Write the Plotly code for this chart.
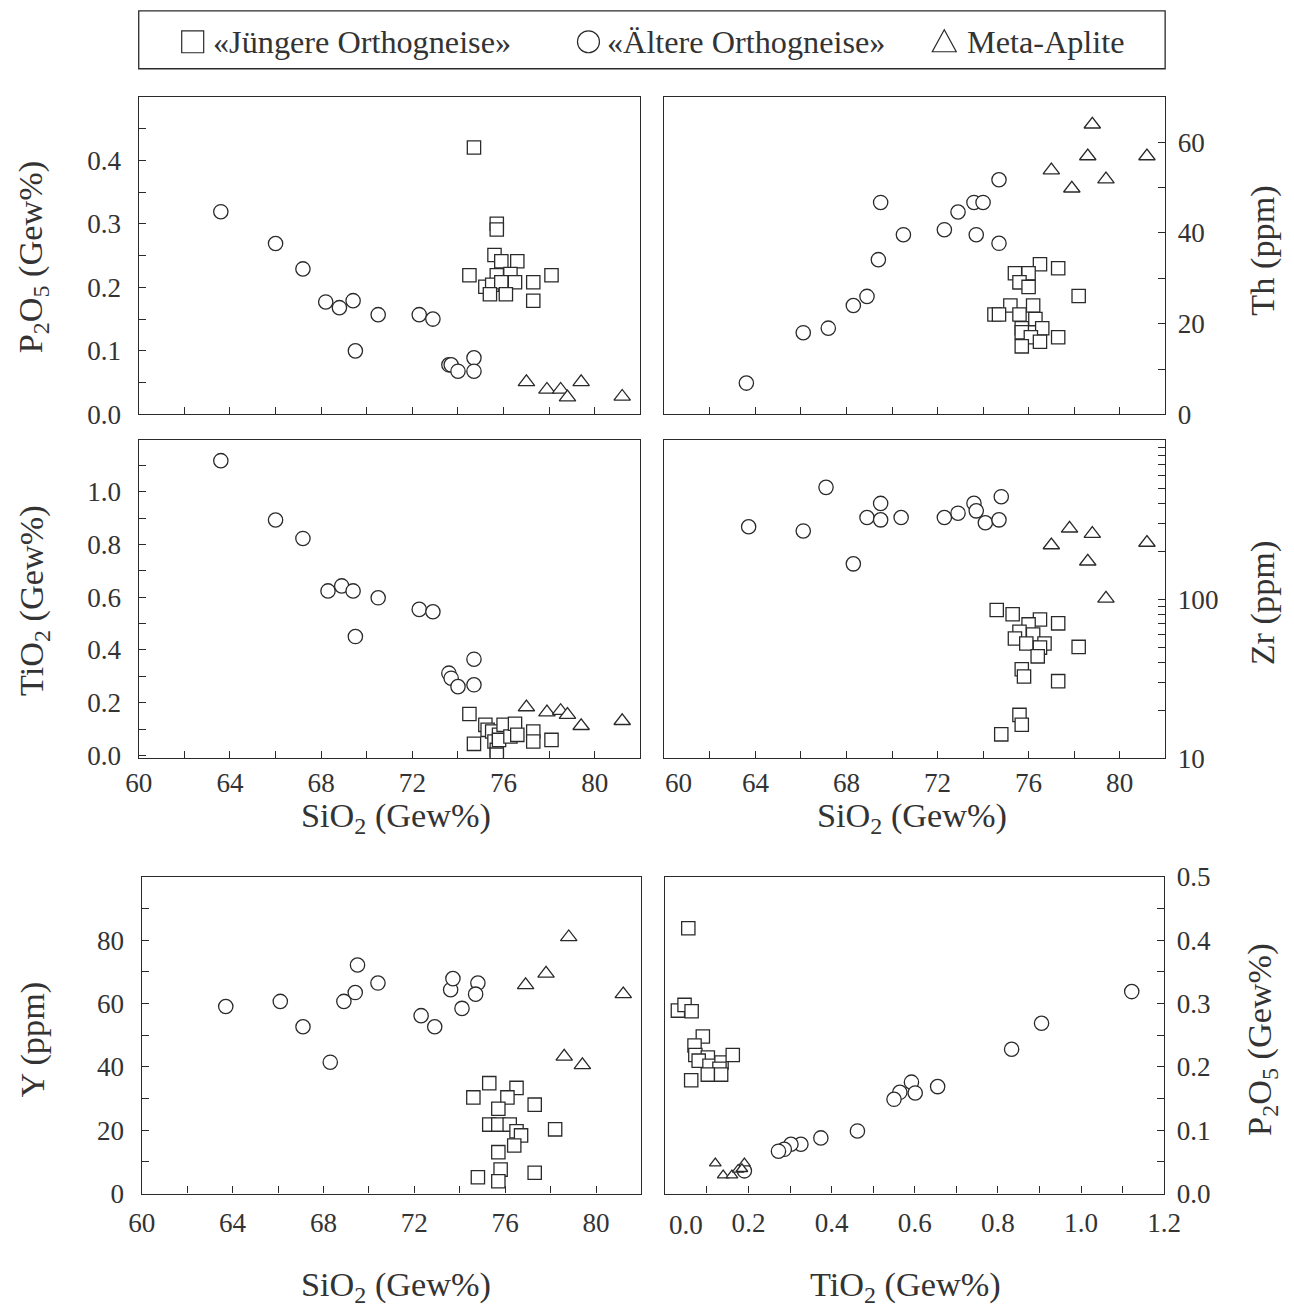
import plotly.graph_objects as go

W, H = 1294, 1307

# ---------------- data ----------------
# Panel A: P2O5 vs SiO2
alt_sio2_a = [63.6, 66.0, 67.2, 68.2, 68.8, 69.4, 69.5, 70.5, 72.3, 72.9, 73.6, 73.7, 74.0, 74.7, 74.7]
alt_p2o5_a = [0.319, 0.269, 0.229, 0.177, 0.168, 0.179, 0.100, 0.157, 0.157, 0.150, 0.078, 0.078, 0.068, 0.089, 0.068]
jung_sio2_a = [74.7, 75.7, 75.7, 75.6, 75.9, 76.6, 74.5, 75.7, 76.3, 75.2, 75.5, 75.9, 76.5, 77.3, 78.1, 75.4, 76.1, 77.3]
jung_p2o5_a = [0.420, 0.300, 0.291, 0.251, 0.241, 0.241, 0.219, 0.219, 0.221, 0.201, 0.204, 0.208, 0.208, 0.208, 0.219, 0.189, 0.189, 0.179]
apl_sio2_a = [77.0, 77.9, 78.5, 78.8, 79.4, 81.2]
apl_p2o5_a = [0.051, 0.039, 0.039, 0.027, 0.051, 0.028]

# Panel B: Th vs SiO2
alt_sio2_b = [63.6, 66.1, 67.2, 68.3, 68.9, 69.4, 69.5, 70.5, 72.3, 72.9, 73.6, 74.0, 73.7, 74.7, 74.7]
alt_th_b = [6.9, 18.0, 19.0, 24.0, 26.0, 34.1, 46.7, 39.6, 40.7, 44.6, 46.7, 46.7, 39.6, 51.7, 37.7]
jung_sio2_b = [76.5, 77.3, 75.4, 76.0, 75.6, 76.0, 78.2, 75.2, 76.2, 74.5, 74.7, 75.6, 76.3, 75.7, 76.6, 75.7, 76.1, 76.5, 77.3, 75.7]
jung_th_b = [33.1, 32.2, 31.1, 31.1, 29.1, 28.1, 26.1, 24.0, 24.0, 22.0, 22.0, 22.0, 21.0, 19.0, 19.0, 18.1, 17.0, 16.0, 17.0, 15.0]
apl_sio2_b = [78.8, 78.6, 81.2, 77.0, 79.4, 77.9]
apl_th_b = [63.9, 56.9, 56.9, 53.8, 51.8, 49.8]

# Panel C: TiO2 vs SiO2
alt_sio2_c = [63.6, 66.0, 67.2, 68.3, 68.9, 69.4, 69.5, 70.5, 72.3, 72.9, 73.6, 73.7, 74.0, 74.7, 74.7]
alt_tio2_c = [1.118, 0.893, 0.823, 0.624, 0.643, 0.624, 0.451, 0.598, 0.554, 0.545, 0.312, 0.293, 0.261, 0.365, 0.268]
jung_sio2_c = [74.5, 74.7, 75.2, 75.3, 75.5, 75.6, 75.7, 75.7, 75.8, 75.8, 76.0, 76.3, 76.5, 76.6, 77.3, 77.3, 78.1]
jung_tio2_c = [0.157, 0.044, 0.116, 0.097, 0.091, 0.053, 0.021, 0.003, 0.078, 0.059, 0.116, 0.072, 0.120, 0.078, 0.091, 0.053, 0.059]
apl_sio2_c = [77.0, 77.9, 78.5, 78.8, 79.4, 81.2]
apl_tio2_c = [0.183, 0.164, 0.169, 0.154, 0.112, 0.131]

# Panel D: Zr vs SiO2 (log)
alt_sio2_d = [63.7, 66.1, 67.1, 68.3, 68.9, 69.5, 69.5, 70.4, 72.3, 72.9, 73.6, 73.7, 74.1, 74.8, 74.7]
alt_zr_d = [286, 269, 506, 167, 327, 316, 401, 327, 327, 348, 402, 360, 303, 442, 316]
jung_sio2_d = [74.6, 75.3, 76.5, 77.3, 76.0, 75.6, 76.2, 75.4, 75.9, 76.7, 76.5, 78.2, 76.4, 75.7, 75.8, 77.3, 75.6, 75.7, 74.8]
jung_zr_d = [85.5, 80.4, 74.6, 70.5, 69.4, 62.4, 60.0, 56.6, 52.6, 52.6, 49.6, 50.1, 43.7, 36.2, 32.6, 30.5, 18.7, 16.2, 14.1]
apl_sio2_d = [77.0, 77.8, 78.8, 78.6, 79.4, 81.2]
apl_zr_d = [219, 279, 258, 173, 101, 227]

# Panel E: Y vs SiO2
alt_sio2_e = [63.7, 66.1, 67.1, 68.3, 68.9, 69.4, 69.5, 70.4, 72.3, 72.9, 73.6, 73.7, 74.1, 74.8, 74.7]
alt_y_e = [59.1, 60.7, 52.7, 41.5, 60.7, 63.5, 72.2, 66.5, 56.2, 52.7, 64.4, 67.9, 58.5, 66.5, 63.0]
jung_sio2_e = [75.3, 76.5, 74.6, 76.1, 77.3, 75.7, 75.3, 75.7, 76.2, 76.5, 76.7, 78.2, 76.4, 75.7, 75.8, 74.8, 75.7, 77.3]
jung_y_e = [34.9, 33.4, 30.4, 30.4, 28.1, 26.8, 21.8, 21.8, 21.8, 19.7, 18.4, 20.3, 15.2, 13.1, 7.6, 5.2, 3.9, 6.6]
apl_sio2_e = [78.8, 77.8, 76.9, 81.2, 78.6, 79.4]
apl_y_e = [81.0, 69.5, 65.9, 63.0, 43.3, 40.6]

# Panel F: P2O5 vs TiO2
alt_tio2_f = [1.122, 0.905, 0.833, 0.655, 0.592, 0.601, 0.564, 0.550, 0.462, 0.374, 0.326, 0.302, 0.286, 0.272, 0.190]
alt_p2o5_f = [0.319, 0.269, 0.228, 0.169, 0.176, 0.159, 0.160, 0.149, 0.099, 0.088, 0.078, 0.078, 0.070, 0.067, 0.036]
jung_tio2_f = [0.055, 0.030, 0.046, 0.063, 0.090, 0.070, 0.072, 0.102, 0.080, 0.106, 0.135, 0.162, 0.130, 0.102, 0.134, 0.062]
jung_p2o5_f = [0.419, 0.289, 0.298, 0.288, 0.248, 0.234, 0.219, 0.215, 0.210, 0.202, 0.207, 0.219, 0.197, 0.188, 0.188, 0.179]
apl_tio2_f = [0.120, 0.190, 0.139, 0.160, 0.175, 0.184]
apl_p2o5_f = [0.048, 0.048, 0.029, 0.029, 0.038, 0.039]

# tick definitions (labelled ticks and unlabelled minor ticks)
sio2_major = [60, 64, 68, 72, 76, 80]
sio2_minor = [62, 66, 70, 74, 78]
p2o5_major_a = [0.0, 0.1, 0.2, 0.3, 0.4]
p2o5_major_f = [0.0, 0.1, 0.2, 0.3, 0.4, 0.5]
p2o5_minor = [0.05, 0.15, 0.25, 0.35, 0.45]
th_major = [0, 20, 40, 60]
th_minor = [10, 30, 50]
tio2_major = [0.0, 0.2, 0.4, 0.6, 0.8, 1.0]
tio2_minor = [0.1, 0.3, 0.5, 0.7, 0.9, 1.1]
zr_major = [10, 100]
zr_minor = [20, 30, 40, 50, 60, 70, 80, 90, 200, 300, 400, 500, 600, 700, 800, 900]
y_major = [0, 20, 40, 60, 80]
y_minor = [10, 30, 50, 70, 90]
tio2x_major = [0.2, 0.4, 0.6, 0.8, 1.0, 1.2]
tio2x_minor = [0.1, 0.3, 0.5, 0.7, 0.9, 1.1]

NAMES = ["«Jüngere Orthogneise»", "«Ältere Orthogneise»", "Meta-Aplite"]

FONT = "Liberation Serif, Times New Roman, Times, serif"
TXT = "#333333"
LINE = "#2a2a2a"

# the photographed page comes out slightly shrunk and shifted; positions below are
# given in reference pixels and mapped through this correction
SX, OX = 0.9766, 13.2
SY, OY = 0.978, 14.2
K = 1 / 0.977

TICKSIZE = 26.5 * K


def fx(p):
    return ((p - OX) / SX) / W


def fy(p):
    return 1 - ((p - OY) / SY) / H


def fmt1(v):
    return "{:.1f}".format(v)


def fmt0(v):
    return "{:g}".format(v)


fig = go.Figure()


def add_panel(xa, ya, jx, jy, ax, ay, tx, ty, tri_size=14):
    fig.add_trace(go.Scatter(x=jx, y=jy, mode="markers", name=NAMES[0], showlegend=False,
                             xaxis=xa, yaxis=ya,
                             marker=dict(symbol="square", size=13 * K, color="white",
                                         line=dict(color=LINE, width=1.3))))
    fig.add_trace(go.Scatter(x=ax, y=ay, mode="markers", name=NAMES[1], showlegend=False,
                             xaxis=xa, yaxis=ya,
                             marker=dict(symbol="circle", size=14 * K, color="white",
                                         line=dict(color=LINE, width=1.3))))
    fig.add_trace(go.Scatter(x=tx, y=ty, mode="markers", name=NAMES[2], showlegend=False,
                             xaxis=xa, yaxis=ya,
                             marker=dict(symbol="triangle-up", size=tri_size * K, color="white",
                                         line=dict(color=LINE, width=1.3))))


add_panel("x", "y", jung_sio2_a, jung_p2o5_a, alt_sio2_a, alt_p2o5_a, apl_sio2_a, apl_p2o5_a)
add_panel("x2", "y2", jung_sio2_b, jung_th_b, alt_sio2_b, alt_th_b, apl_sio2_b, apl_th_b)
add_panel("x3", "y3", jung_sio2_c, jung_tio2_c, alt_sio2_c, alt_tio2_c, apl_sio2_c, apl_tio2_c)
add_panel("x4", "y4", jung_sio2_d, jung_zr_d, alt_sio2_d, alt_zr_d, apl_sio2_d, apl_zr_d)
add_panel("x5", "y5", jung_sio2_e, jung_y_e, alt_sio2_e, alt_y_e, apl_sio2_e, apl_y_e)
add_panel("x6", "y6", jung_tio2_f, jung_p2o5_f, alt_tio2_f, alt_p2o5_f, apl_tio2_f, apl_p2o5_f, tri_size=10)


def axis_common(minor_vals):
    return dict(showline=True, mirror=True, linecolor=LINE, linewidth=1.4,
                ticks="inside", ticklen=7, tickwidth=1.2, tickcolor=LINE,
                tickmode="array", showgrid=False, zeroline=False,
                tickfont=dict(family=FONT, size=TICKSIZE, color=TXT),
                minor=dict(tickmode="array", tickvals=minor_vals, ticks="inside", ticklen=7,
                           tickwidth=1.2, tickcolor=LINE, showgrid=False))


def xax(dom, rng, major, minor_vals, labels, anchor, standoff=0):
    d = axis_common(minor_vals)
    d.update(domain=[fx(dom[0]), fx(dom[1])], range=rng, tickvals=major,
             anchor=anchor, ticklabelstandoff=standoff)
    if labels is None:
        d.update(showticklabels=False)
    else:
        d.update(ticktext=labels, showticklabels=True)
    return d


def yax(dom, rng, major, minor_vals, labels, side, anchor, typ="linear", standoff=10):
    d = axis_common(minor_vals)
    d.update(domain=[fy(dom[1]), fy(dom[0])], range=rng, tickvals=major, ticktext=labels,
             side=side, anchor=anchor, type=typ, ticklabelstandoff=standoff)
    return d


col_l = (138, 640)
col_r = (664, 1165)
row1 = (96, 414)
row2 = (440, 758)
row3 = (877, 1194)

sio2_text = [fmt0(v) for v in sio2_major]
layout = dict(
    width=W, height=H, margin=dict(l=0, r=0, t=0, b=0, pad=0), autosize=False,
    paper_bgcolor="white", plot_bgcolor="white", showlegend=False,
    xaxis=xax(col_l, [60, 82], sio2_major, sio2_minor, None, "y"),
    yaxis=yax(row1, [0, 0.5], p2o5_major_a, p2o5_minor, [fmt1(v) for v in p2o5_major_a], "left", "x", standoff=11),
    xaxis2=xax(col_r, [60, 82], sio2_major, sio2_minor, None, "y2"),
    yaxis2=yax(row1, [0, 70], th_major, th_minor, [fmt0(v) for v in th_major], "right", "x2", standoff=6),
    xaxis3=xax(col_l, [60, 82], sio2_major, sio2_minor, sio2_text, "y3", standoff=0),
    yaxis3=yax(row2, [-0.01, 1.195], tio2_major, tio2_minor, [fmt1(v) for v in tio2_major], "left", "x3", standoff=11),
    xaxis4=xax(col_r, [60, 82], sio2_major[1:], sio2_minor, sio2_text[1:], "y4", standoff=0),
    yaxis4=yax(row2, [1, 3], zr_major, zr_minor, [fmt0(v) for v in zr_major], "right", "x4", typ="log", standoff=6),
    xaxis5=xax((141, 641), [60, 82], sio2_major, sio2_minor, sio2_text, "y5", standoff=5),
    yaxis5=yax(row3, [0, 100], y_major, y_minor, [fmt0(v) for v in y_major], "left", "x5", standoff=11),
    xaxis6=xax((665, 1164), [0, 1.2], tio2x_major, tio2x_minor, [fmt1(v) for v in tio2x_major], "y6", standoff=5),
    yaxis6=yax(row3, [0, 0.5], p2o5_major_f, p2o5_minor, [fmt1(v) for v in p2o5_major_f], "right", "x6", standoff=6),
)
fig.update_layout(**layout)

TITLE = dict(family=FONT, size=33.5 * K, color=TXT)
ann = []


def title(text, px, py, angle=0):
    ann.append(dict(text=text, x=fx(px), y=fy(py), xref="paper", yref="paper",
                    showarrow=False, textangle=angle, xanchor="center", yanchor="middle",
                    font=TITLE))


title("P<sub>2</sub>O<sub>5</sub> (Gew%)", 32, 257, -90)
title("TiO<sub>2</sub> (Gew%)", 32, 600, -90)
title("Y (ppm)", 32, 1040, -90)
title("Th (ppm)", 1262, 250, -90)
title("Zr (ppm)", 1262, 603, -90)
title("P<sub>2</sub>O<sub>5</sub> (Gew%)", 1262, 1040, -90)
title("SiO<sub>2</sub> (Gew%)", 395, 817)
title("SiO<sub>2</sub> (Gew%)", 912, 817)
title("SiO<sub>2</sub> (Gew%)", 395, 1287)
title("TiO<sub>2</sub> (Gew%)", 905, 1287)

# edge tick labels placed like the reference
TF = dict(family=FONT, size=TICKSIZE, color=TXT)
ann.append(dict(text="60", x=fx(678), y=fy(783), xref="paper", yref="paper", showarrow=False,
                xanchor="center", yanchor="middle", font=TF))
ann.append(dict(text="0.0", x=fx(686), y=fy(1225), xref="paper", yref="paper", showarrow=False,
                xanchor="center", yanchor="middle", font=TF))

# legend texts
LEG = dict(family=FONT, size=31.5 * K, color=TXT)
for text, px in [(NAMES[0], 210), (NAMES[1], 605), (NAMES[2], 965)]:
    ann.append(dict(text=text, x=fx(px), y=fy(41), xref="paper", yref="paper", showarrow=False,
                    xanchor="left", yanchor="middle", font=LEG))

fig.update_layout(annotations=ann)

shapes = [
    dict(type="rect", xref="paper", yref="paper", x0=fx(138), x1=fx(1165), y0=fy(68), y1=fy(10),
         line=dict(color=LINE, width=1.3)),
    dict(type="rect", xref="paper", yref="paper", x0=fx(181), x1=fx(203), y0=fy(52), y1=fy(30),
         line=dict(color=LINE, width=1.2)),
    dict(type="circle", xref="paper", yref="paper", x0=fx(577), x1=fx(599), y0=fy(52), y1=fy(30),
         line=dict(color=LINE, width=1.2)),
    dict(type="path", xref="paper", yref="paper",
         path="M {:.5f},{:.5f} L {:.5f},{:.5f} L {:.5f},{:.5f} Z".format(
             fx(932), fy(51), fx(956), fy(51), fx(944), fy(29)),
         line=dict(color=LINE, width=1.2)),
]
fig.update_layout(shapes=shapes)

fig.write_html("out.html", config={"displayModeBar": False})

# remove the default page margin so the figure sits exactly in the window
with open("out.html", "r", encoding="utf-8") as fh:
    html = fh.read()
html = html.replace("<head>", "<head><style>html,body{margin:0;padding:0;overflow:hidden;}</style>", 1)
with open("out.html", "w", encoding="utf-8") as fh:
    fh.write(html)
